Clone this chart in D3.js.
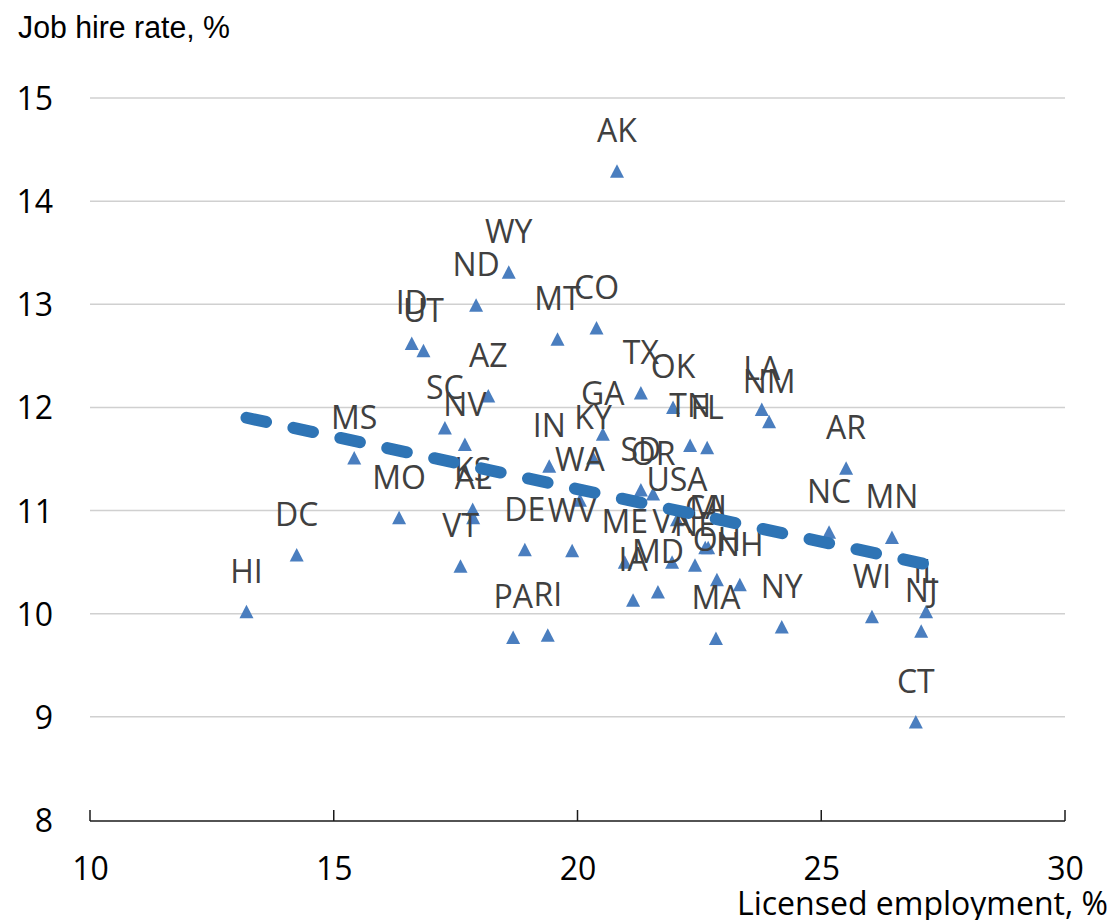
<!DOCTYPE html>
<html>
<head>
<meta charset="utf-8">
<script src="https://cdn.jsdelivr.net/npm/d3@7"></script>
<style>
  html, body { margin: 0; padding: 0; background: #fff; }
  svg { display: block; }
</style>
</head>
<body>
<svg id="chart" width="1111" height="920"></svg>
<script>
// State codes, share of licensed employment (%), job hire rate (%)
const states = ["HI","DC","MS","MO","SC","NV","VT","KS","AL","ID","UT","ND","WY","AZ","PA","RI","DE","WV","IN","MT","WA","KY","GA","CO","AK","TX","SD","OR","ME","IA","MD","OK","VA","USA","TN","NE","FL","CA","MI","OH","MA","NH","LA","NM","NY","NC","AR","WI","MN","CT","NJ","IL"];
const licensed = [13.21,14.24,15.42,16.34,17.28,17.69,17.60,17.85,17.86,16.60,16.84,17.92,18.59,18.17,18.68,19.39,18.92,19.89,19.42,19.59,20.05,20.32,20.52,20.39,20.81,21.30,21.30,21.55,20.97,21.14,21.65,21.96,21.94,22.04,22.31,22.41,22.66,22.62,22.68,22.86,22.84,23.33,23.78,23.93,24.19,25.16,25.51,26.04,26.45,26.94,27.05,27.15];
const hireRate = [10.02,10.57,11.51,10.93,11.80,11.64,10.46,11.01,10.93,12.62,12.55,12.99,13.31,12.11,9.77,9.79,10.62,10.61,11.43,12.66,11.10,11.51,11.74,12.77,14.29,12.14,11.20,11.16,10.50,10.13,10.21,12.00,10.50,10.91,11.63,10.47,11.61,10.64,10.64,10.33,9.76,10.28,11.98,11.86,9.87,10.79,11.41,9.97,10.74,8.95,9.83,10.02];

// Linear trend line end points
const trendX = [13.21, 27.15];
const trendY = [11.90, 10.48];

const xTicks = [10, 15, 20, 25, 30];
const yTicks = [8, 9, 10, 11, 12, 13, 14, 15];

const svg = d3.select("#chart");
const plot = { left: 90, right: 1065, top: 98, bottom: 820 };

const x = d3.scaleLinear().domain([10, 30]).range([plot.left, plot.right]);
const y = d3.scaleLinear().domain([8, 15]).range([plot.bottom, plot.top]);

// Horizontal gridlines
svg.append("g")
  .selectAll("line")
  .data(yTicks.filter(d => d > 8))
  .join("line")
  .attr("x1", plot.left).attr("x2", plot.right)
  .attr("y1", d => y(d)).attr("y2", d => y(d))
  .attr("stroke", "#d0d0d0").attr("stroke-width", 1.5);

// Y axis tick labels (no axis line)
const yAxis = d3.axisLeft(y).tickValues(yTicks).tickSize(0).tickPadding(0).tickFormat(d3.format("d"));
const gy = svg.append("g").attr("transform", `translate(${plot.left - 37},0)`).call(yAxis);
gy.select(".domain").remove();
gy.selectAll("text")
  .attr("font-family", "'Open Sans', sans-serif")
  .attr("font-size", 32)
  .attr("fill", "#000")
  .attr("dy", "0.36em");

// X axis with inward tick marks
const xAxis = d3.axisBottom(x).tickValues(xTicks).tickSize(0).tickPadding(0).tickFormat(d3.format("d"));
const gx = svg.append("g").attr("transform", `translate(0,${plot.bottom + 1})`).call(xAxis);
gx.select(".domain").remove();
gx.selectAll("text")
  .attr("font-family", "'Open Sans', sans-serif")
  .attr("font-size", 32)
  .attr("fill", "#000")
  .attr("y", 59)
  .attr("dy", 0);
svg.append("line")
  .attr("x1", plot.left).attr("x2", plot.right)
  .attr("y1", plot.bottom + 1).attr("y2", plot.bottom + 1)
  .attr("stroke", "#1a1a1a").attr("stroke-width", 1.5);
svg.append("g")
  .selectAll("line")
  .data(xTicks)
  .join("line")
  .attr("x1", d => x(d)).attr("x2", d => x(d))
  .attr("y1", plot.bottom + 1).attr("y2", plot.bottom - 10)
  .attr("stroke", "#1a1a1a").attr("stroke-width", 1.5);

// Axis titles
svg.append("text")
  .attr("x", 18).attr("y", 38)
  .attr("font-family", "'Liberation Sans Narrow', 'Liberation Sans', sans-serif")
  .attr("font-size", 31)
  .attr("textLength", 212)
  .attr("lengthAdjust", "spacingAndGlyphs")
  .attr("fill", "#000")
  .text("Job hire rate, %");

svg.append("text")
  .attr("x", 1108).attr("y", 915)
  .attr("text-anchor", "end")
  .attr("font-family", "'Open Sans', sans-serif")
  .attr("font-size", 32)
  .attr("fill", "#000")
  .text("Licensed employment, %");

const idx = d3.range(states.length);

// Triangle markers
const tri = "M0,-7L7,6.5L-7,6.5Z";
svg.append("g")
  .selectAll("path")
  .data(idx)
  .join("path")
  .attr("transform", i => `translate(${x(licensed[i])},${y(hireRate[i])})`)
  .attr("d", tri)
  .attr("fill", "#4a7ebf");

// Data labels above each marker
svg.append("g")
  .selectAll("text")
  .data(idx)
  .join("text")
  .attr("x", i => x(licensed[i]))
  .attr("y", i => y(hireRate[i]) - 29)
  .attr("text-anchor", "middle")
  .attr("font-family", "'Open Sans', sans-serif")
  .attr("font-size", 32)
  .attr("fill", "#404040")
  .text(i => states[i]);

// Dashed linear trend line
svg.append("path")
  .datum(d3.range(trendX.length))
  .attr("d", d3.line().x(i => x(trendX[i])).y(i => y(trendY[i])))
  .attr("fill", "none")
  .attr("stroke", "#2e74b5")
  .attr("stroke-width", 12)
  .attr("stroke-linecap", "round")
  .attr("stroke-dasharray", "20,28");
</script>
</body>
</html>
